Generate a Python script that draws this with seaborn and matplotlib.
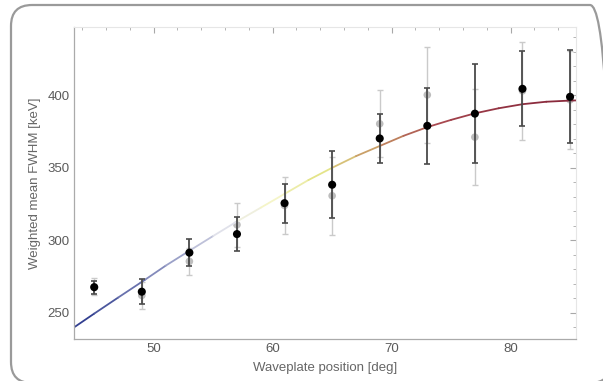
import numpy as np
import pandas as pd
import matplotlib
matplotlib.use("Agg")
import matplotlib.pyplot as plt
import seaborn as sns
from matplotlib.collections import LineCollection
from matplotlib.colors import LinearSegmentedColormap
from matplotlib.patches import FancyBboxPatch
from matplotlib.ticker import MultipleLocator

# ---- data ----
positions = [45, 49, 53, 57, 61, 65, 69, 73, 77, 81, 85]
fwhm_main = [267.7, 264.6, 291.5, 304.3, 325.6, 338.3, 370.2, 378.9, 387.3, 404.4, 398.9]
err_main = [4.5, 8.5, 9.5, 12.0, 13.5, 23.0, 16.7, 26.4, 34.3, 25.8, 32.0]
fwhm_alt = [268.0, 262.0, 285.5, 310.7, 324.0, 330.7, 380.3, 400.2, 371.1, 403.0, 396.8]
err_alt = [6.0, 9.5, 9.5, 15.0, 19.3, 26.7, 23.0, 33.0, 33.0, 33.8, 34.0]

fit_x = [43.3, 45, 47, 49.3, 51, 53, 55, 57, 59, 61, 63, 65, 67, 69, 71, 73,
         75, 77, 79, 81, 83, 85, 85.5]
fit_y = [240.0, 249.5, 260.5, 273.0, 282.5, 292.8, 303.0, 313.0, 322.5, 332.0,
         341.5, 350.0, 358.0, 365.0, 372.0, 378.0, 383.0, 387.5, 391.0, 393.8,
         395.5, 396.3, 396.4]

xlabel = "Waveplate position [deg]"
ylabel = "Weighted mean FWHM [keV]"

# ---- style ----
sns.set_theme(style="white")
plt.rcParams["font.family"] = ["Liberation Sans", "DejaVu Sans"]

fig = plt.figure(figsize=(6.03, 3.81), dpi=100)
ax = fig.add_axes([74 / 603, 1 - 339 / 381, (576 - 74) / 603, (339 - 27) / 381])

# outer rounded frame (partly cut by the image edge on the right and bottom)
frame = FancyBboxPatch((11, -2), 600, 378,
                       boxstyle="round,pad=0,rounding_size=21",
                       transform=None, fill=False,
                       edgecolor="#9a9a9a", linewidth=1.6, zorder=0)
fig.patches.append(frame)

# gradient fit line
cmap = LinearSegmentedColormap.from_list(
    "fitmap",
    [(0.0, "#27358a"), (0.3, "#9aa0c8"), (0.45, "#e8e8ee"), (0.55, "#f6f6cc"),
     (0.68, "#e4e488"), (0.8, "#c49060"), (0.9, "#a84850"), (1.0, "#8a2a3c")])
pts = np.column_stack([fit_x, fit_y]).reshape(-1, 1, 2)
segs = np.concatenate([pts[:-1], pts[1:]], axis=1)
lc = LineCollection(segs, cmap=cmap, linewidth=1.3, zorder=2, capstyle="round")
vals = np.array(fit_y)
lc.set_array((vals[:-1] + vals[1:]) / 2)
lc.set_clim(min(fit_y), max(fit_y))
ax.add_collection(lc)

df_main = pd.DataFrame({"pos": positions, "fwhm": fwhm_main, "err": err_main})
df_alt = pd.DataFrame({"pos": positions, "fwhm": fwhm_alt, "err": err_alt})

# light series
ax.errorbar(df_alt["pos"], df_alt["fwhm"], yerr=df_alt["err"], fmt="none",
            ecolor="#cacaca", elinewidth=1.0, capsize=2.2, capthick=1.0, zorder=1)
sns.scatterplot(data=df_alt, x="pos", y="fwhm", ax=ax, color="#bdbdbd", s=30,
                edgecolor="none", zorder=1.5, legend=False)

# main series
ax.errorbar(df_main["pos"], df_main["fwhm"], yerr=df_main["err"], fmt="none",
            ecolor="#4a4a4a", elinewidth=1.3, capsize=2.2, capthick=1.2, zorder=3)
sns.scatterplot(data=df_main, x="pos", y="fwhm", ax=ax, color="black", s=34,
                edgecolor="none", zorder=4, legend=False)

ax.set_xlim(43.3, 85.5)
ax.set_ylim(232, 447)

ax.xaxis.set_major_locator(MultipleLocator(10))
ax.xaxis.set_minor_locator(MultipleLocator(2))
ax.yaxis.set_major_locator(MultipleLocator(50))
ax.yaxis.set_minor_locator(MultipleLocator(10))

ax.tick_params(which="both", direction="in", top=True, right=True,
               colors="#a8a8a8", labelcolor="#5a5a5a", labelsize=9.5)
ax.tick_params(which="major", length=4, width=0.8, pad=3)
ax.tick_params(which="minor", length=2, width=0.6)

for side in ["left", "bottom"]:
    ax.spines[side].set_color("#aaaaaa")
    ax.spines[side].set_linewidth(0.9)
for side in ["top", "right"]:
    ax.spines[side].set_color("#e6e6e6")
    ax.spines[side].set_linewidth(0.8)

ax.set_xlabel(xlabel, color="#666666", fontsize=9.5, labelpad=5)
ax.set_ylabel(ylabel, color="#666666", fontsize=9.5, labelpad=5)

fig.savefig("out.png", dpi=100)
